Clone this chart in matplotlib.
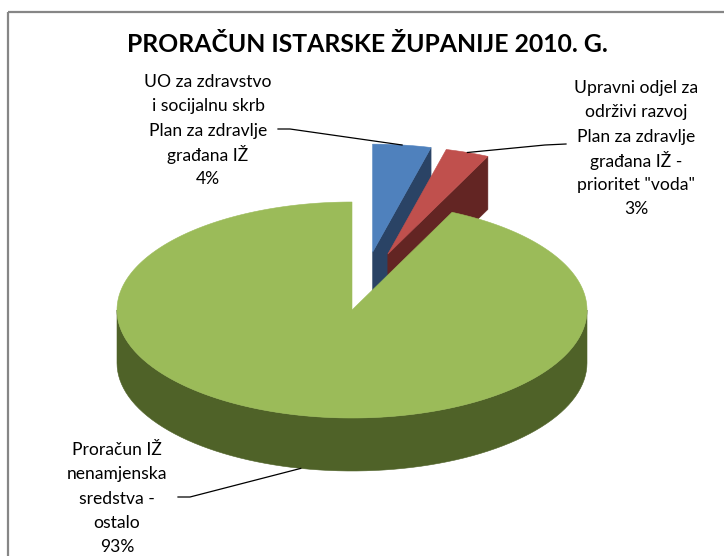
import numpy as np
import matplotlib.pyplot as plt
from matplotlib.patches import Polygon, Rectangle

# podaci
title = 'PRORAČUN ISTARSKE ŽUPANIJE 2010. G.'
names = ['UO za zdravstvo\ni socijalnu skrb\nPlan za zdravlje\ngrađana IŽ',
         'Upravni odjel za\nodrživi razvoj\nPlan za zdravlje\ngrađana IŽ -\nprioritet "voda"',
         'Proračun IŽ\nnenamjenska\nsredstva -\nostalo']
shares = [4, 3, 93]

top_colors = ['#4F81BD', '#C0504D', '#9BBB59']
side_colors = ['#2A4365', '#632523', '#4F6228']
explode_x = [0.7, 0.45, 0.0]
explode_y = [0.54, 0.55, 0.0]

# geometrija (pikseli)
cx, cy, rx, ry, depth = 352, 310, 235, 108, 53
label_pos = [(208, 82), (636, 88), (117, 450)]   # sredina prvog retka
line_step = 24.3
leader_start = [(278, 129), (566, 144), (178, 497)]
leader_knee = [(290, 129), (545, 145), (190, 497)]

fig = plt.figure(figsize=(7.24, 5.56), dpi=100)
ax = fig.add_axes([0, 0, 1, 1])
ax.set_xlim(0, 724)
ax.set_ylim(556, 0)
ax.axis('off')

ax.add_patch(Rectangle((7.5, 11.5), 760, 600, fill=False, ec='#868686', lw=1.6))


def pts(a0, a1, ox, oy, dz=0, n=80):
    t = np.radians(np.linspace(a0, a1, n))
    return np.column_stack([ox + rx * np.sin(t), oy - ry * np.cos(t) + dz])


def poly(p, c, z):
    ax.add_patch(Polygon(p, closed=True, fc=c, ec=c, lw=0.4, zorder=z))


bounds = np.concatenate([[0], np.cumsum(shares)]) / sum(shares) * 360
for i in range(len(shares)):
    s, e = bounds[i], bounds[i + 1]
    m = (s + e) / 2
    ox = cx + explode_x[i] * rx * np.sin(np.radians(m))
    oy = cy - explode_y[i] * ry * np.cos(np.radians(m))
    z = 2 + i * 3
    # bocne stranice
    if np.sin(np.radians(e)) > 1e-6:
        r = pts(e, e, ox, oy, n=1)[0]
        poly([(ox, oy), r, (r[0], r[1] + depth), (ox, oy + depth)], side_colors[i], z)
    if np.sin(np.radians(s)) < -1e-6:
        r = pts(s, s, ox, oy, n=1)[0]
        poly([(ox, oy), r, (r[0], r[1] + depth), (ox, oy + depth)], side_colors[i], z)
    a0, a1 = max(s, 90), min(e, 270)
    if a1 > a0:
        up = pts(a0, a1, ox, oy)
        dn = pts(a1, a0, ox, oy, depth)
        poly(np.vstack([up, dn]), side_colors[i], z + 1)
    # gornja ploha
    poly(np.vstack([[ox, oy], pts(s, e, ox, oy, n=300)]), top_colors[i], z + 2)

    # oznaka (redak po redak) i linija
    lx, ly = label_pos[i]
    lines = f'{names[i]}\n{shares[i]}%'.split('\n')
    for j, txt in enumerate(lines):
        ax.text(lx, ly + j * line_step, txt, ha='center', va='center',
                fontsize=12.6, family='Lato', color='black', zorder=20)
    end = pts(m, m, ox, oy, depth if 90 < m < 270 else 0, n=1)[0]
    xs = [leader_start[i][0], leader_knee[i][0], end[0]]
    ys = [leader_start[i][1], leader_knee[i][1], end[1]]
    ax.plot(xs, ys, color='black', lw=0.9, zorder=21)

ax.text(367, 44, title, ha='center', va='center', fontsize=17.8,
        fontweight='bold', family='Lato', zorder=20)

fig.savefig('out.png', dpi=100)
